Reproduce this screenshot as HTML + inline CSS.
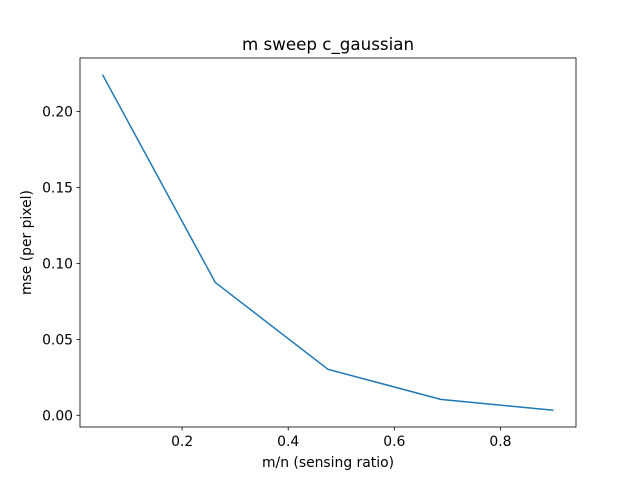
<!DOCTYPE html>
<html><head><meta charset="utf-8"><style>body{margin:0;background:#fff}svg{display:block;font-family:"DejaVu Sans","Liberation Sans",sans-serif}</style></head>
<body>
<svg id="c" width="640" height="480" viewBox="0 0 640 480"></svg>
<script>
const xValues = [0.05, 0.2625, 0.475, 0.6875, 0.9];
const yValues = [0.2243, 0.0875, 0.0303, 0.0105, 0.0033];
const xTicks = [0.2, 0.4, 0.6, 0.8];
const xTickLabels = ["0.2", "0.4", "0.6", "0.8"];
const yTicks = [0, 0.05, 0.10, 0.15, 0.20];
const yTickLabels = ["0.00", "0.05", "0.10", "0.15", "0.20"];

const L=80,R=576,T=58,B=427;
const xmin=0.0075,xmax=0.9425,ymin=-0.0077,ymax=0.2353;
const sx=v=>L+(v-xmin)/(xmax-xmin)*(R-L);
const sy=v=>B-(v-ymin)/(ymax-ymin)*(B-T);
const svg=document.getElementById('c');
const NS='http://www.w3.org/2000/svg';
function mk(t,a,p){const e=document.createElementNS(NS,t);for(const k in a)e.setAttribute(k,a[k]);(p||svg).appendChild(e);return e;}

const xa=mk('g',{});


xTicks.forEach((v,i)=>{
  const x=sx(v);
  mk('line',{x1:x,x2:x,y1:B,y2:B+3.5,stroke:'#000','stroke-width':0.8},xa);
  const t=mk('text',{x:x,y:B+19,'font-size':13.9,'text-anchor':'middle'},xa);
  
  
  t.textContent=xTickLabels[i];
});
const ya=mk('g',{});


yTicks.forEach((v,i)=>{
  const y=sy(v);
  mk('line',{x1:L,x2:L-3.5,y1:y,y2:y,stroke:'#000','stroke-width':0.8},ya);
  const t=mk('text',{x:L-7,y:y+5,'font-size':13.9,'text-anchor':'end'},ya);
  
  
  t.textContent=yTickLabels[i];
});
const line=mk('polyline',{points:xValues.map((v,i)=>sx(v)+','+sy(yValues[i])).join(' '),fill:'none',stroke:'#1f77b4','stroke-width':1.5});


const fr=mk('rect',{x:L,y:T,width:R-L,height:B-T,fill:'none',stroke:'#000','stroke-width':0.8});


const ti=mk('text',{x:(L+R)/2,y:T-8,'font-size':16.7,'text-anchor':'middle'});


ti.textContent='m sweep c_gaussian';
const xt=mk('text',{x:(L+R)/2,y:467,'font-size':13.9,'text-anchor':'middle'});


xt.textContent='m/n (sensing ratio)';
const yt=mk('text',{x:0,y:0,'font-size':13.9,'text-anchor':'middle',transform:'translate(31,'+((T+B)/2)+') rotate(-90)'});


yt.textContent='mse (per pixel)';
</script>
</body></html>
